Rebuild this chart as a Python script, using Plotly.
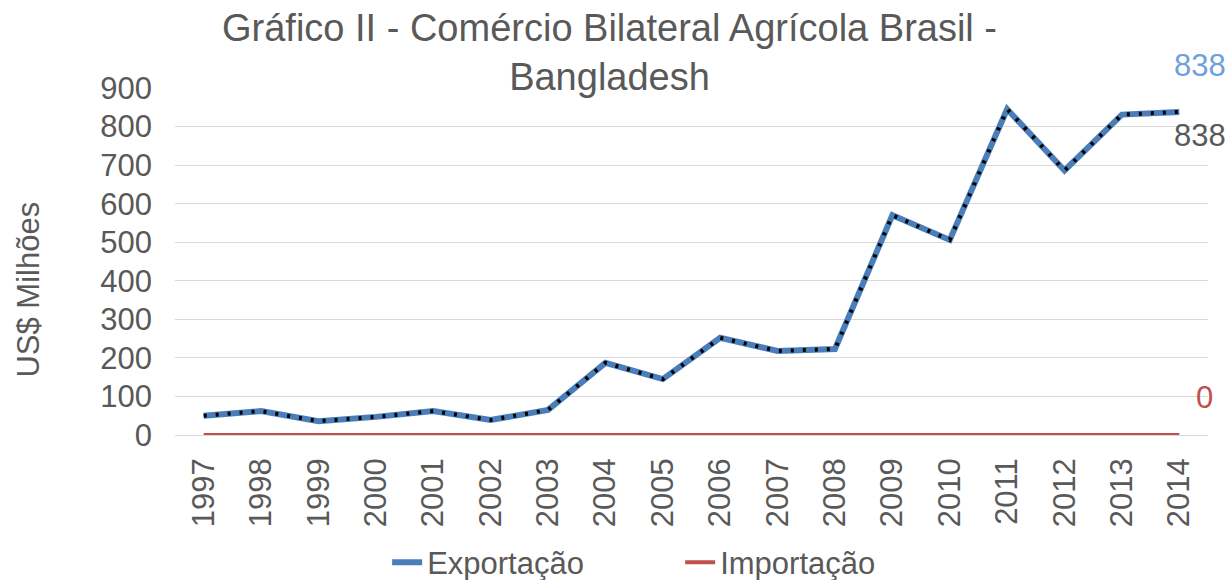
import plotly.graph_objects as go

years = [str(y) for y in range(1997, 2015)]
exportacao = [50, 62, 36, 47, 62, 39, 65, 187, 145, 252, 218, 223, 570, 506, 845, 686, 831, 838]
importacao = [0] * 18
corrente = [e + i for e, i in zip(exportacao, importacao)]

FONT = "Liberation Sans, Arial, sans-serif"
GREY = "#595959"
BLUE = "#4a7ebb"
RED = "#c0504d"
FS = 31

fig = go.Figure()
fig.add_trace(go.Scatter(x=years, y=exportacao, mode="lines", name="Exportação",
                         line=dict(color=BLUE, width=6)))
fig.add_trace(go.Scatter(x=years, y=importacao, mode="lines", name="Importação",
                         line=dict(color=RED, width=4)))
fig.add_trace(go.Scatter(x=years, y=corrente, mode="lines", name="Corrente",
                         showlegend=False,
                         line=dict(color="black", width=4, dash="3px,9px")))

last = len(years) - 1
fig.add_annotation(x=last, y=exportacao[-1], text=str(exportacao[-1]), showarrow=False,
                   xanchor="center", yanchor="middle", xshift=21, yshift=46,
                   font=dict(family=FONT, size=FS, color="#6fa0dc"))
fig.add_annotation(x=last, y=corrente[-1], text=str(corrente[-1]), showarrow=False,
                   xanchor="center", yanchor="middle", xshift=21, yshift=-24,
                   font=dict(family=FONT, size=FS, color=GREY))
fig.add_annotation(x=last, y=importacao[-1], text=str(importacao[-1]), showarrow=False,
                   xanchor="center", yanchor="middle", xshift=25, yshift=38,
                   font=dict(family=FONT, size=FS, color=RED))

# title
fig.add_annotation(xref="paper", yref="paper", x=0.421, y=1.103, showarrow=False,
                   xanchor="center", yanchor="middle",
                   text="Gráfico II - Comércio Bilateral Agrícola Brasil -<br>Bangladesh",
                   font=dict(family=FONT, size=38, color=GREY))
# y axis title
fig.add_annotation(xref="paper", yref="paper", x=-0.142, y=0.42, showarrow=False,
                   xanchor="center", yanchor="middle", textangle=-90,
                   text="US$ Milhões", font=dict(family=FONT, size=FS, color=GREY))

fig.update_layout(
    width=1231, height=580,
    margin=dict(l=175, r=23, t=88, b=145),
    paper_bgcolor="white", plot_bgcolor="white",
    font=dict(family=FONT, size=FS, color=GREY),
    showlegend=True,
    legend=dict(orientation="h", x=0.489, xanchor="center",
                yref="container", y=0.03, yanchor="middle",
                entrywidth=248, entrywidthmode="pixels",
                font=dict(family=FONT, size=FS, color=GREY)),
    xaxis=dict(type="category", range=[-0.5, 17.5], tickangle=-90, showgrid=False,
               showline=False, ticks="", automargin=False, ticklabelstandoff=16,
               tickfont=dict(size=FS, color=GREY)),
    yaxis=dict(range=[0, 900], dtick=100, showgrid=True, gridcolor="#d9d9d9", gridwidth=1,
               zeroline=True, zerolinecolor="#d9d9d9", zerolinewidth=1,
               ticks="", automargin=False, ticklabelstandoff=22,
               tickfont=dict(size=FS, color=GREY)),
)

fig.write_html("out.html", config={"displayModeBar": False},
               post_script="document.body.style.margin='0';document.body.style.overflow='hidden';")
